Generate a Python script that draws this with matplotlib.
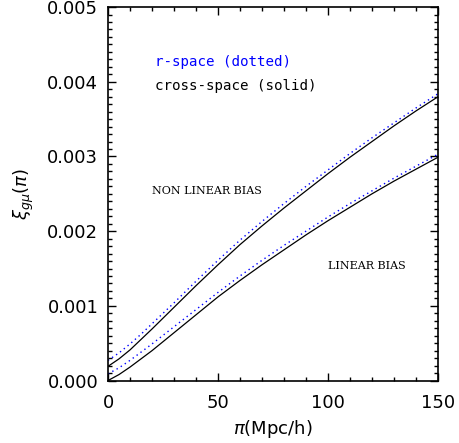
import numpy as np
import matplotlib
matplotlib.use('Agg')
import matplotlib.pyplot as plt
from matplotlib.ticker import MultipleLocator

# separation pi (Mpc/h)
pi_sep = [0, 5, 10, 15, 20, 30, 40, 50, 60, 70, 80, 90, 100, 110, 120, 130, 140, 150]

# xi_gmu in units of 1e-3
nonlin_cross = [0.19, 0.29, 0.41, 0.55, 0.69, 0.98, 1.27, 1.55, 1.82, 2.07,
                2.31, 2.54, 2.77, 2.99, 3.20, 3.41, 3.61, 3.80]
nonlin_real = [0.27, 0.37, 0.49, 0.62, 0.76, 1.04, 1.33, 1.61, 1.88, 2.13,
               2.37, 2.60, 2.82, 3.04, 3.25, 3.45, 3.65, 3.84]
lin_cross = [0.00, 0.08, 0.18, 0.29, 0.40, 0.64, 0.88, 1.12, 1.34, 1.55,
             1.75, 1.95, 2.14, 2.32, 2.50, 2.67, 2.83, 2.99]
lin_real = [0.09, 0.17, 0.27, 0.38, 0.49, 0.72, 0.95, 1.18, 1.40, 1.61,
            1.81, 2.00, 2.19, 2.37, 2.54, 2.71, 2.87, 3.03]

x = np.array(pi_sep)
scale = 1e-3

fig = plt.figure(figsize=(4.59, 4.43), dpi=100)
ax = fig.add_axes([0.2353, 0.141, 0.719, 0.843])

dot = dict(color='blue', linestyle=(0, (1, 2.5)), linewidth=1.0)
solid = dict(color='black', linestyle='-', linewidth=0.9)
ax.plot(x, np.array(nonlin_real) * scale, **dot)
ax.plot(x, np.array(nonlin_cross) * scale, **solid)
ax.plot(x, np.array(lin_real) * scale, **dot)
ax.plot(x, np.array(lin_cross) * scale, **solid)

ax.set_xlim(0, 150)
ax.set_ylim(0, 0.005)
ax.xaxis.set_major_locator(MultipleLocator(50))
ax.xaxis.set_minor_locator(MultipleLocator(10))
ax.yaxis.set_major_locator(MultipleLocator(0.001))
ax.yaxis.set_minor_locator(MultipleLocator(0.0001))
ax.yaxis.set_major_formatter(plt.FuncFormatter(lambda v, p: f'{v:.3f}'))

ax.tick_params(which='both', direction='in', top=True, right=True, width=1.0)
ax.tick_params(axis='y', labelsize=13, pad=7)
ax.tick_params(axis='x', labelsize=13, pad=10)
ax.tick_params(which='major', length=6)
ax.tick_params(which='minor', length=3)
for sp in ax.spines.values():
    sp.set_linewidth(1.2)

ax.set_xlabel(r'$\pi$(Mpc/h)', fontsize=13, labelpad=4)
ax.set_ylabel(r'$\xi_{g\mu}(\pi)$', fontsize=13, labelpad=8)

ax.text(21.4, 0.00427, 'r-space (dotted)', color='blue',
        family='DejaVu Sans Mono', fontsize=10.2, va='center')
ax.text(21.4, 0.00394, 'cross-space (solid)', color='black',
        family='DejaVu Sans Mono', fontsize=10.2, va='center')
ax.text(20, 0.00254, 'NON LINEAR BIAS', family='DejaVu Serif',
        fontsize=8, va='center')
ax.text(100, 0.00154, 'LINEAR BIAS', family='DejaVu Serif',
        fontsize=8, va='center')

fig.savefig('out.png', dpi=100)
